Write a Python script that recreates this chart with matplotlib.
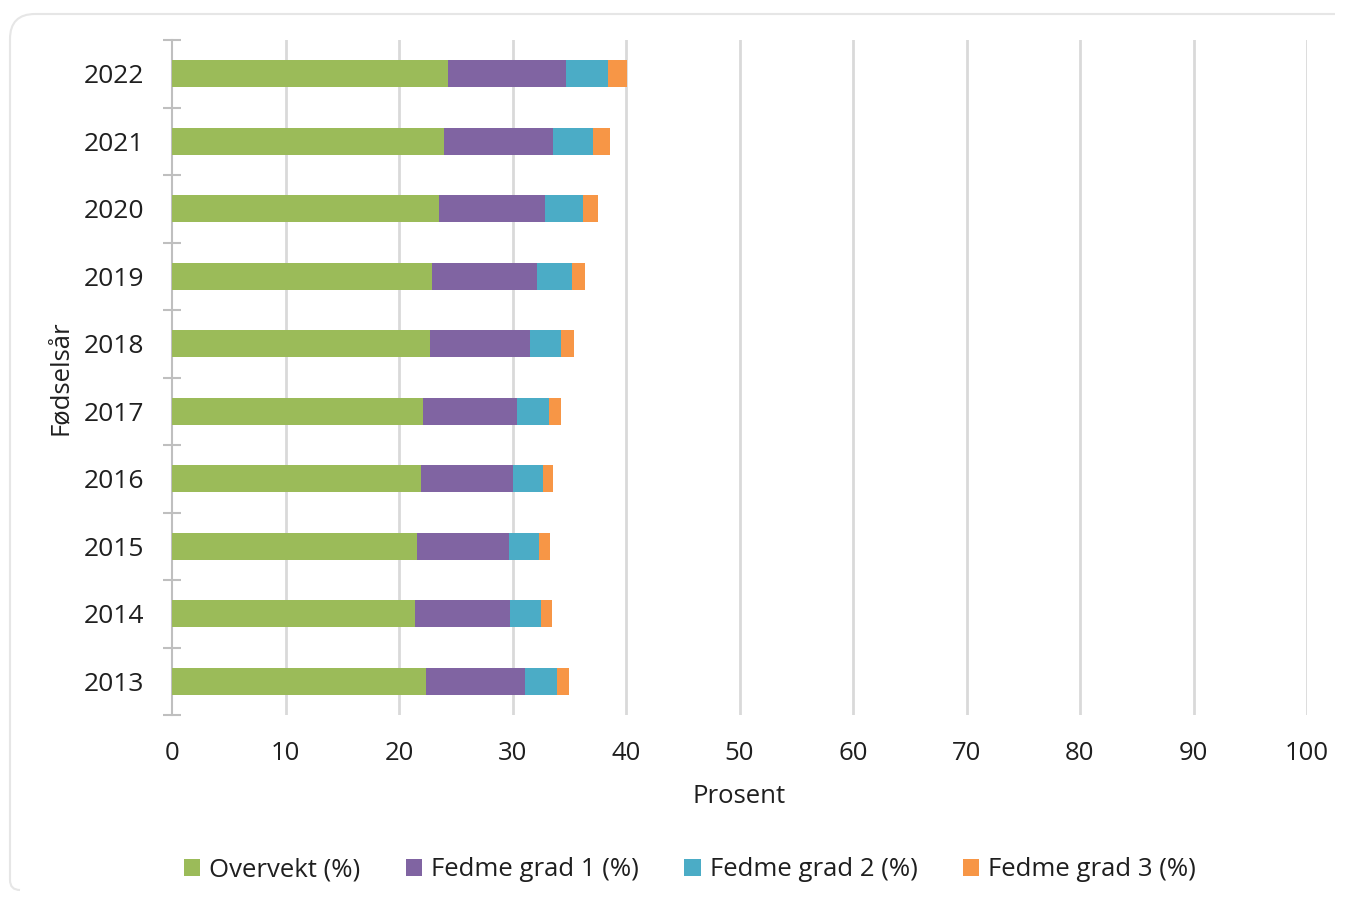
import matplotlib
matplotlib.use("Agg")
import matplotlib.pyplot as plt
from matplotlib.patches import Patch
from matplotlib.path import Path
from matplotlib.patches import PathPatch
import numpy as np

plt.rcParams['font.family'] = ['Open Sans', 'DejaVu Sans']

years = ['2013', '2014', '2015', '2016', '2017', '2018', '2019', '2020', '2021', '2022']
overvekt = [22.4, 21.4, 21.6, 21.9, 22.1, 22.7, 22.9, 23.5, 24.0, 24.3]
fedme1 = [8.7, 8.4, 8.1, 8.1, 8.3, 8.8, 9.3, 9.4, 9.6, 10.4]
fedme2 = [2.8, 2.7, 2.6, 2.7, 2.8, 2.8, 3.0, 3.3, 3.5, 3.7]
fedme3 = [1.1, 1.0, 1.0, 0.9, 1.1, 1.1, 1.2, 1.3, 1.5, 1.7]

series = [
    ('Overvekt (%)', overvekt, '#9BBB59'),
    ('Fedme grad 1 (%)', fedme1, '#8064A2'),
    ('Fedme grad 2 (%)', fedme2, '#4BACC6'),
    ('Fedme grad 3 (%)', fedme3, '#F79646'),
]

W, H = 1347, 902
fig = plt.figure(figsize=(W / 100, H / 100), dpi=100)
fig.patch.set_facecolor('white')

# card border: top edge and left edge with rounded corners
def fx(x):
    return x / W

def fy(y):
    return 1 - y / H

r = 25
verts = [
    (fx(1335), fy(14)),
    (fx(10 + r), fy(14)),
    (fx(10), fy(14)),
    (fx(10), fy(14 + r)),
    (fx(10), fy(880)),
    (fx(10), fy(890)),
    (fx(20), fy(890)),
]
codes = [Path.MOVETO, Path.LINETO, Path.CURVE3, Path.CURVE3,
         Path.LINETO, Path.CURVE3, Path.CURVE3]
fig.patches.append(PathPatch(Path(verts, codes), transform=fig.transFigure,
                             fill=False, edgecolor='#E6E6E6', linewidth=1.5))

ax = fig.add_axes([172 / W, 1 - 715 / H, (1307 - 172) / W, (715 - 40) / H])

y = np.arange(len(years))
left = np.zeros(len(years))
for name, vals, color in series:
    ax.barh(y, vals, left=left, height=0.4, color=color, label=name, zorder=3)
    left = left + np.array(vals)

ax.set_xlim(0, 100)
ax.set_ylim(-0.5, len(years) - 0.5)
ax.set_xticks(np.arange(0, 101, 10))
ax.set_yticks(y)
ax.set_yticklabels(years)
ax.set_yticks(np.arange(-0.5, len(years), 1.0), minor=True)

text_color = '#1F1F1F'
fs = 18.5
ax.tick_params(axis='x', length=0, pad=19, labelsize=fs, labelcolor=text_color)
ax.tick_params(axis='y', which='major', length=0, pad=20, labelsize=19, labelcolor=text_color)
ax.tick_params(axis='y', which='minor', length=13, width=1.5, direction='inout', color='#BFBFBF')

for side in ['top', 'right', 'bottom']:
    ax.spines[side].set_visible(False)
ax.spines['left'].set_color('#BFBFBF')
ax.spines['left'].set_linewidth(1.5)

ax.grid(axis='x', color='#D9D9D9', linewidth=2, zorder=0)
ax.set_axisbelow(True)
ax.get_xgridlines()[0].set_visible(False)

ax.set_xlabel('Prosent', fontsize=fs, color=text_color, labelpad=13)
ax.set_ylabel('Fødselsår', fontsize=fs, color=text_color, labelpad=8)

handles = [Patch(facecolor=c, edgecolor='none') for _, _, c in series]
labels = [n for n, _, _ in series]
fig.legend(handles, labels, loc='center', bbox_to_anchor=(690 / W, 1 - 870 / H),
           ncol=4, frameon=False, fontsize=fs, handlelength=0.65, handleheight=0.65,
           handletextpad=0.35, columnspacing=1.75, labelcolor=text_color)

fig.savefig('out.png', dpi=100, facecolor='white')
